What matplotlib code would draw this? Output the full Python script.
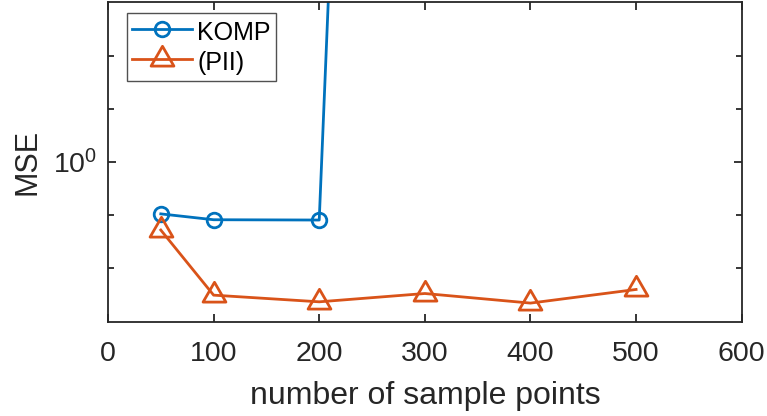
import numpy as np
import matplotlib
matplotlib.use("Agg")
import matplotlib.pyplot as plt
from matplotlib.path import Path
from matplotlib.ticker import FixedLocator, NullFormatter

plt.rcParams['font.family'] = ['Liberation Sans', 'DejaVu Sans']
plt.rcParams['mathtext.fontset'] = 'custom'
plt.rcParams['mathtext.rm'] = 'Liberation Sans'
plt.rcParams['mathtext.it'] = 'Liberation Sans'

# data
komp_x = [50, 100, 200, 300]
komp_mse = [0.798, 0.778, 0.777, 5.0e4]
pii_x = [50, 100, 200, 300, 400, 500]
pii_mse = [0.744, 0.561, 0.545, 0.565, 0.542, 0.575]

blue = '#0072BD'
orange = '#D95319'
axcol = '#262626'

# MATLAB style triangle: data point sits at the centroid
tri = Path([(0, 2), (-1.732, -1), (1.732, -1), (0, 2)],
           [Path.MOVETO, Path.LINETO, Path.LINETO, Path.CLOSEPOLY])

fig = plt.figure(figsize=(7.67, 4.16), dpi=100)
ax = fig.add_axes([0.1408, 0.2267, 0.967 - 0.1408, 0.9952 - 0.2267])

ax.plot(komp_x, komp_mse, '-o', color=blue, lw=2.0, ms=10.5, mew=2.0,
        mfc='none', label='KOMP')
ax.plot(pii_x, pii_mse, '-', marker=tri, color=orange, lw=2.0, ms=19,
        mew=2.0, mfc='none', label='(PII)')

ax.set_yscale('log')
ax.set_xlim(0, 600)
ax.set_ylim(0.5, 2.0)
ax.set_xticks(range(0, 601, 100))
ax.yaxis.set_major_locator(FixedLocator([1.0]))
ax.set_yticklabels([r'$10^{0}$'])
ax.yaxis.set_minor_locator(FixedLocator(10 ** np.array([-0.2, -0.1, 0.1, 0.2])))
ax.yaxis.set_minor_formatter(NullFormatter())

ax.tick_params(which='both', direction='in', top=True, right=True,
               colors=axcol, labelsize=20.5, width=1.3)
ax.tick_params(which='major', length=6)
ax.tick_params(which='minor', length=4)
ax.tick_params(axis='x', pad=14)
ax.tick_params(axis='y', pad=8)
for s in ax.spines.values():
    s.set_color(axcol)
    s.set_linewidth(1.3)

ax.set_xlabel('number of sample points', fontsize=23, color=axcol, labelpad=10)
ax.set_ylabel('MSE', fontsize=22, color=axcol, labelpad=7)

leg = ax.legend(loc='upper left', bbox_to_anchor=(0.03, 0.965), fontsize=18,
                frameon=True, fancybox=False, handlelength=2.4,
                handleheight=1.3, borderpad=0.2, labelspacing=0.12,
                handletextpad=0.2, borderaxespad=0)
leg.get_frame().set_edgecolor(axcol)
leg.get_frame().set_linewidth(1.0)

fig.savefig('out.png', dpi=100)
